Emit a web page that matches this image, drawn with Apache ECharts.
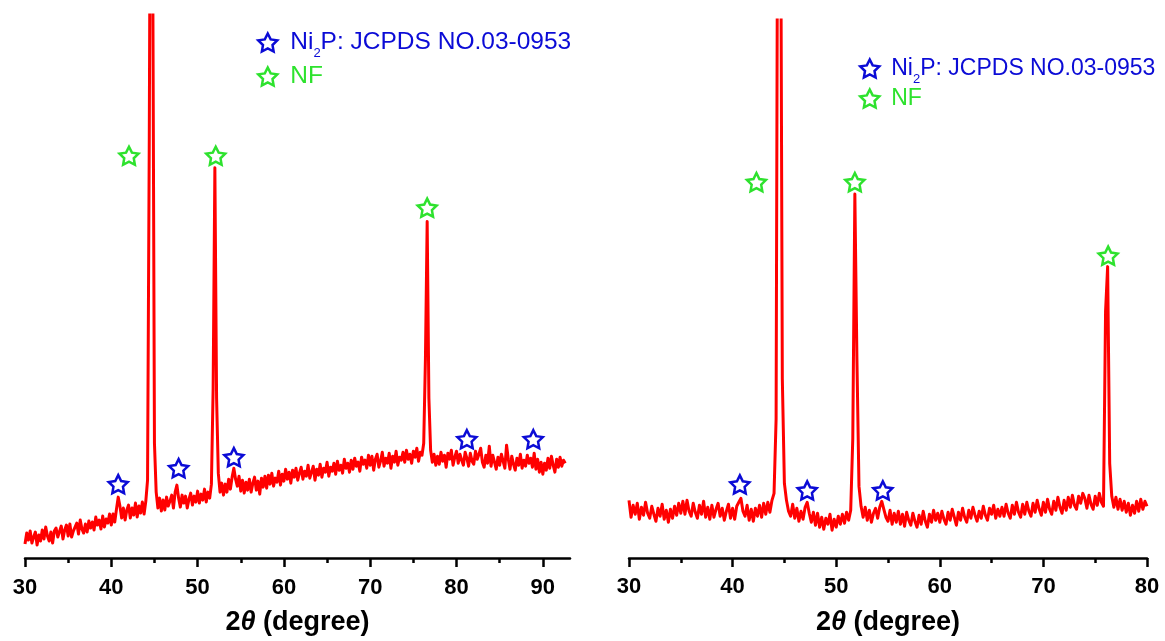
<!DOCTYPE html>
<html>
<head>
<meta charset="utf-8">
<script src="https://cdn.jsdelivr.net/npm/echarts@6/dist/echarts.min.js"></script>
<style>
  html, body { margin: 0; padding: 0; background: #fff; }
  #chart { width: 1165px; height: 641px; }
</style>
</head>
<body>
<div id="chart"></div>
<script>
// XRD patterns, intensity in arbitrary units, sampled every 0.2 degree
const leftStart = 30.0;
const rightStart = 30.0;
const step = 0.2;

const leftIntensity = [
  14, 25, 18, 27, 15, 21, 26, 13, 23, 17,
  28, 19, 31, 22, 17, 26, 15, 27, 30, 21,
  23, 32, 19, 28, 33, 22, 34, 21, 27, 31,
  35, 24, 38, 29, 25, 34, 26, 37, 30, 36,
  28, 41, 33, 38, 29, 42, 31, 39, 35, 44,
  33, 44, 36, 49, 61, 52, 40, 50, 38, 48,
  53, 40, 50, 43, 55, 41, 52, 45, 56, 44,
  57, 78, 420, 900, 600, 115, 66, 50, 60, 47,
  58, 48, 61, 52, 57, 63, 50, 66, 73, 60,
  51, 63, 55, 62, 50, 59, 65, 53, 62, 56,
  67, 55, 64, 58, 69, 56, 66, 60, 74, 170,
  391, 160, 85, 66, 75, 63, 74, 66, 79, 69,
  81, 90, 79, 72, 82, 67, 78, 65, 76, 68,
  79, 66, 75, 81, 68, 77, 64, 80, 71, 82,
  70, 83, 74, 85, 72, 80, 76, 87, 73, 84,
  77, 89, 79, 86, 75, 88, 81, 90, 78, 85,
  91, 79, 87, 82, 93, 80, 86, 92, 78, 89,
  83, 94, 81, 90, 86, 96, 82, 91, 87, 95,
  84, 97, 88, 93, 85, 99, 90, 95, 86, 98,
  89, 100, 92, 96, 87, 101, 94, 98, 90, 103,
  93, 102, 88, 99, 104, 91, 97, 106, 92, 100,
  95, 105, 90, 102, 96, 107, 93, 101, 98, 106,
  96, 108, 99, 104, 95, 107, 101, 110, 97, 106,
  103, 115, 200, 337, 160, 108, 96, 104, 93, 102,
  94, 106, 97, 103, 91, 105, 99, 108, 93, 101,
  107, 95, 104, 98, 93, 106, 100, 92, 105, 97,
  94, 107, 99, 104, 110, 96, 91, 103, 95, 112,
  92, 103, 96, 89, 101, 93, 104, 97, 90, 113,
  99, 89, 102, 94, 88, 100, 93, 104, 90, 98,
  92, 103, 95, 100, 91, 105, 89, 99, 86, 96,
  84, 95, 88, 100, 90, 102, 93, 86, 99, 91,
  101, 92, 98, 95
];

const rightIntensity = [
  58, 41, 53, 44, 55, 39, 51, 43, 56, 45,
  40, 52, 44, 37, 50, 42, 54, 39, 48, 36,
  49, 40, 52, 43, 55, 45, 57, 44, 58, 47,
  42, 55, 46, 40, 53, 44, 57, 41, 51, 39,
  53, 41, 49, 55, 42, 50, 38, 47, 54, 40,
  50, 39, 52, 56, 60, 47, 42, 53, 38, 49,
  37, 50, 42, 53, 41, 55, 44, 56, 46, 58,
  65, 140, 900, 800, 180, 75, 58, 47, 42, 54,
  40, 50, 37, 47, 39, 51, 56, 45, 36, 46,
  33, 45, 31, 41, 29, 40, 34, 44, 28, 39,
  31, 42, 34, 44, 35, 46, 38, 48, 120, 366,
  200, 72, 52, 41, 51, 38, 48, 36, 45, 50,
  40, 51, 57, 49, 41, 37, 48, 34, 45, 36,
  47, 34, 44, 32, 46, 38, 33, 45, 37, 31,
  43, 34, 47, 37, 31, 44, 36, 48, 38, 45,
  36, 47, 39, 34, 46, 38, 49, 41, 33, 46,
  38, 50, 41, 36, 48, 40, 51, 43, 37, 47,
  40, 52, 43, 38, 50, 44, 53, 40, 49, 42,
  51, 42, 54, 45, 40, 53, 44, 56, 46, 41,
  54, 44, 56, 47, 42, 55, 46, 58, 49, 43,
  56, 46, 59, 49, 44, 57, 48, 61, 51, 45,
  58, 48, 61, 51, 63, 53, 49, 62, 55, 65,
  60, 50, 63, 54, 49, 62, 53, 65, 56, 52,
  248, 293, 95, 62, 51, 61, 49, 59, 48, 57,
  46, 55, 43, 53, 45, 57, 47, 59, 49, 57,
  52
];

// reference marks [2theta, height]
const leftNi2P = [[40.8, 74], [47.8, 90], [54.2, 101], [81.2, 119], [88.9, 119]];
const leftNF = [[42.05, 403], [52.1, 403], [76.6, 351]];
const rightNi2P = [[40.7, 74], [47.2, 68], [54.5, 68]];
const rightNF = [[42.3, 378], [51.8, 378], [76.25, 304]];

const leftTicks = [30, 40, 50, 60, 70, 80, 90];

const BLUE = '#0b0bd6';
const GREEN = '#2ee22e';
const RED = '#ff0000';
const FONT = 'Arial, "Liberation Sans", sans-serif';
const STAR = 'path://M0,-10L2.94,-4.05L9.51,-3.09L4.76,1.55L5.88,8.09L0,5L-5.88,8.09L-4.76,1.55L-9.51,-3.09L-2.94,-4.05Z';

const toPoints = (arr, start) => arr.map((v, i) => [+(start + i * step).toFixed(2), v]);

function xAxisFor(gridIndex, max, labelMargin) {
  return {
    type: 'value',
    gridIndex: gridIndex,
    min: 30,
    max: max,
    interval: 10,
    name: '{n|2}{i|θ}{n| (degree)}',
    nameLocation: 'middle',
    nameGap: 51,
    nameTextStyle: {
      rich: {
        n: { fontFamily: FONT, fontSize: 27, fontWeight: 'bold', color: '#000' },
        i: { fontFamily: FONT, fontSize: 27, fontWeight: 'bold', fontStyle: 'italic', color: '#000' }
      }
    },
    axisLine: { show: true, onZero: false, lineStyle: { color: '#000', width: 2.5 } },
    axisTick: gridIndex === 0
      ? { show: true, inside: false, length: 9, lineStyle: { color: '#000', width: 2.5 }, customValues: leftTicks }
      : { show: true, inside: false, length: 9, lineStyle: { color: '#000', width: 2.5 } },
    minorTick: { show: true, splitNumber: 2, length: 5, lineStyle: { color: '#000', width: 2.5 } },
    axisLabel: gridIndex === 0
      ? { margin: labelMargin, fontFamily: FONT, fontSize: 22, fontWeight: 'bold', color: '#000', customValues: leftTicks }
      : { margin: labelMargin, fontFamily: FONT, fontSize: 22, fontWeight: 'bold', color: '#000' },
    splitLine: { show: false },
    minorSplitLine: { show: false }
  };
}

function starSeries(name, data, color, gi) {
  return {
    name: name,
    type: 'scatter',
    xAxisIndex: gi,
    yAxisIndex: gi,
    symbol: STAR,
    symbolSize: 19,
    symbolKeepAspect: true,
    z: 5,
    itemStyle: { color: '#fff', borderColor: color, borderWidth: 2.5, opacity: 1 },
    data: data
  };
}

function richLegend(size, gap) {
  return {
    sp: { width: gap },
    b: { fontFamily: FONT, fontSize: size, lineHeight: size, color: BLUE },
    s: { fontFamily: FONT, fontSize: 13, lineHeight: 13, color: BLUE, padding: [22, 0, 0, 0] },
    g: { fontFamily: FONT, fontSize: size, lineHeight: size, color: GREEN }
  };
}

function legendFor(name, color, left, top, gap, size) {
  return {
    show: true,
    selectedMode: false,
    left: left,
    top: top,
    padding: 0,
    itemWidth: 19,
    itemHeight: 19,
    itemGap: 0,
    icon: STAR,
    data: [{
      name: name,
      itemStyle: { color: '#fff', borderColor: color, borderWidth: 2.5 }
    }],
    formatter: n => n === 'Ni2P' ? '{sp|}{b|Ni}{s|2}{b|P: JCPDS NO.03-0953}' : '{sp|}{g|NF}',
    textStyle: { rich: richLegend(size, gap) }
  };
}

const chart = echarts.init(document.getElementById('chart'), null, { renderer: 'canvas' });

chart.setOption({
  animation: false,
  backgroundColor: '#fff',
  grid: [
    { left: 25, right: 595, top: 15, bottom: 82 },
    { left: 629, right: 18, top: 20, bottom: 80 }
  ],
  xAxis: [xAxisFor(0, 93.15, 19), xAxisFor(1, 80, 18)],
  yAxis: [
    { type: 'value', gridIndex: 0, min: 0, max: 544, show: false },
    { type: 'value', gridIndex: 1, min: 0, max: 541, show: false }
  ],
  legend: [
    legendFor('Ni2P', BLUE, 257, 25, 8, 24.5),
    legendFor('NF', GREEN, 257, 64, 8, 24.5),
    legendFor('Ni2P', BLUE, 859, 51, 7, 23),
    legendFor('NF', GREEN, 859, 87, 7, 23)
  ],
  series: [
    {
      name: 'left',
      type: 'line',
      xAxisIndex: 0,
      yAxisIndex: 0,
      showSymbol: false,
      clip: true,
      lineStyle: { color: RED, width: 3, join: 'round' },
      data: toPoints(leftIntensity, leftStart)
    },
    {
      name: 'right',
      type: 'line',
      xAxisIndex: 1,
      yAxisIndex: 1,
      showSymbol: false,
      clip: true,
      lineStyle: { color: RED, width: 3, join: 'round' },
      data: toPoints(rightIntensity, rightStart)
    },
    starSeries('Ni2P', leftNi2P, BLUE, 0),
    starSeries('NF', leftNF, GREEN, 0),
    starSeries('Ni2P', rightNi2P, BLUE, 1),
    starSeries('NF', rightNF, GREEN, 1)
  ]
});
</script>
</body>
</html>
